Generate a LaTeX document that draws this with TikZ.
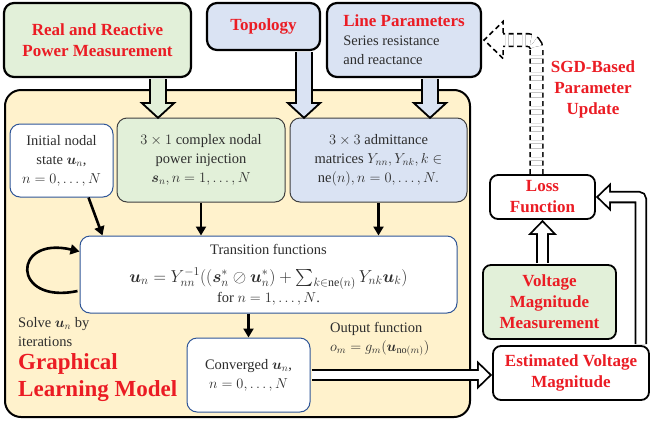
\documentclass[tikz,border=0pt]{standalone}
\usepackage{amsmath}
\usepackage{amssymb}
\usepackage{fontspec}
\setmainfont{Liberation Serif}
\usepackage{xcolor}
\usepackage{tikz}
\usetikzlibrary{arrows.meta}
\usetikzlibrary{calc}

\definecolor{measgreen}{RGB}{226,240,217}
\definecolor{topoblue}{RGB}{218,227,243}
\definecolor{gmlyellow}{RGB}{255,242,204}
\definecolor{titlered}{RGB}{235,28,36}
\definecolor{edgeblue}{RGB}{47,85,151}
\definecolor{textgray}{RGB}{45,45,45}

\newcommand\txtbody{\fontsize{14.5}{19}\selectfont}
\newcommand\txthead{\fontsize{17}{21}\selectfont\bfseries}
\newcommand\txtbig{\fontsize{23}{27}\selectfont\bfseries}
\newcommand\txtformula{\fontsize{17}{22}\selectfont}

\begin{document}
\begin{tikzpicture}[x=1pt, y=-1pt, inner sep=1pt, font=\txtbody, text=textgray,
    topbox/.style={draw=black, line width=2.2pt, rounded corners=10pt, align=center},
    inbox/.style={draw=#1, line width=1pt, rounded corners=10pt, align=center},
    sidebox/.style={draw=black, line width=1.8pt, rounded corners=8pt, align=center, text=titlered, font=\txthead},
    redtxt/.style={text=titlered, font=\txthead},
    flow/.style={line width=2.6pt, -{Triangle[length=9pt, width=10pt]}},
    bigblock/.style={line width=18pt, shorten <=1pt, -{Triangle[length=17pt, width=37pt, line width=0pt]},
      postaction={draw=#1, line width=14pt, shorten <=1pt, shorten >=2.7pt, -{Triangle[length=12.3pt, width=26.8pt, line width=0pt]}}},
    smallblock/.style={line width=12.5pt, shorten <=1pt, -{Triangle[length=15pt, width=29pt, line width=0pt]},
      postaction={draw=#1, line width=8.9pt, shorten <=1pt, shorten >=2.6pt, -{Triangle[length=10.6pt, width=20.5pt, line width=0pt]}}},
    sgdline/.style={line width=1.6pt, double=white, double distance=11pt, dash pattern=on 5pt off 3.5pt, rounded corners=9pt}]
  \useasboundingbox (0,0) rectangle (650,426);

  % graphical learning model
  \node[draw=black, line width=2pt, fill=gmlyellow, rounded corners=16pt, minimum width=465pt, minimum height=327pt] (gml) at (237.5,253.5) {};

  \node[topbox, fill=measgreen, minimum width=187pt, minimum height=74pt, text=titlered, font=\txthead] (realp) at (97.5,40) {Real and Reactive\\Power Measurement};
  \node[topbox, fill=topoblue, minimum width=113pt, minimum height=47pt, text=titlered, font=\txthead] (topo) at (263.5,26.5) {Topology};
  \node[topbox, fill=topoblue, minimum width=154pt, minimum height=74pt, align=left] (linep) at (404,40) {{\color{titlered}\txthead Line Parameters}\\Series resistance\\and reactance};

  \node[inbox=edgeblue, fill=white, minimum width=103pt, minimum height=73pt] (init) at (61.5,160.5) {Initial nodal\\state $\boldsymbol{u}_n$,\\$n=0,\ldots,N$};
  \node[inbox=black!75, fill=measgreen, minimum width=168pt, minimum height=84pt] (power) at (201,160) {$3\times1$ complex nodal\\power injection\\$\boldsymbol{s}_n, n=1,\ldots,N$};
  \node[inbox=black!75, fill=topoblue, minimum width=177pt, minimum height=84pt] (admit) at (378.5,160) {$3\times3$ admittance\\matrices $Y_{nn}, Y_{nk}, k\in$\\$\mathrm{ne}(n), n=0,\ldots,N.$};
  \node[inbox=edgeblue, fill=white, minimum width=377pt, minimum height=77pt] (trans) at (268.5,274.5) {Transition functions\\[9pt]{\txtformula$\boldsymbol{u}_n=Y_{nn}^{-1}((\boldsymbol{s}_n^*\oslash\boldsymbol{u}_n^*)+\sum_{k\in\mathrm{ne}(n)}Y_{nk}\boldsymbol{u}_k)$}\\[1pt]for $n=1,\ldots,N$.};
  \node[inbox=edgeblue, fill=white, minimum width=123pt, minimum height=74pt] (conv) at (248.5,375) {Converged $\boldsymbol{u}_n$,\\$n=0,\ldots,N$};

  \node[sidebox, fill=white, minimum width=105pt, minimum height=44pt] (loss) at (542.5,197) {Loss\\Function};
  \node[sidebox, fill=measgreen, minimum width=133pt, minimum height=74pt] (vmm) at (549.5,302) {Voltage\\Magnitude\\Measurement};
  \node[sidebox, fill=white, minimum width=156pt, minimum height=54pt] (est) at (571,373) {Estimated Voltage\\Magnitude};

  \node[redtxt, align=center] (sgd) at (593,89) {SGD-Based\\Parameter\\Update};
  \node[align=left, anchor=north west] (solve) at (17,316) {Solve $\boldsymbol{u}_n$ by\\iterations};
  \node[align=left, anchor=north west, text=titlered, font=\txtbig] (title) at (17,352) {Graphical\\Learning Model};
  \node[align=left, anchor=north west] (outfn) at (329,321) {Output function\\$o_m=g_m(\boldsymbol{u}_{\mathrm{no}(m)})$};

  % inputs into the model
  \draw[bigblock=measgreen] ($(realp.south)+(60.5,0)$) -- ++(0,41);
  \draw[bigblock=topoblue] ($(topo.south)+(40.5,0)$) -- ++(0,68);
  \draw[bigblock=topoblue] ($(linep.south)+(26,0)$) -- ++(0,41);

  \draw[flow] ($(init.south)+(27,0)$) -- ($(trans.north west)+(23,0)$);
  \draw[flow] (power.south) -- (power.south |- trans.north);
  \draw[flow] (admit.south) -- (admit.south |- trans.north);
  \draw[flow] (conv.north |- trans.south) -- (conv.north);
  \draw[flow] ($(trans.west)+(-2,16.5)$) .. controls +(-66,14) and +(-68,-16) .. ($(trans.west)+(0,-23)$);

  % outputs and loss
  \draw[smallblock=white] (conv.east) -- (conv.east -| est.west);
  \draw[smallblock=white] (loss.south |- vmm.north) -- (loss.south);
  \draw[smallblock=white, rounded corners=3pt] ($(est.north east)+(-9,0)$) |- (loss.east);

  % parameter update
  \draw[sgdline] ($(loss.north)+(-6,0)$) |- ($(linep.east)+(21,0)$);
  \draw[line width=1.6pt, dash pattern=on 5pt off 3.5pt] ($(linep.east)+(21,-7)$) -- ($(linep.east)+(21,-18.5)$) -- ($(linep.east)+(2,0)$) -- ($(linep.east)+(21,18.5)$) -- ($(linep.east)+(21,7)$);
\end{tikzpicture}
\end{document}
